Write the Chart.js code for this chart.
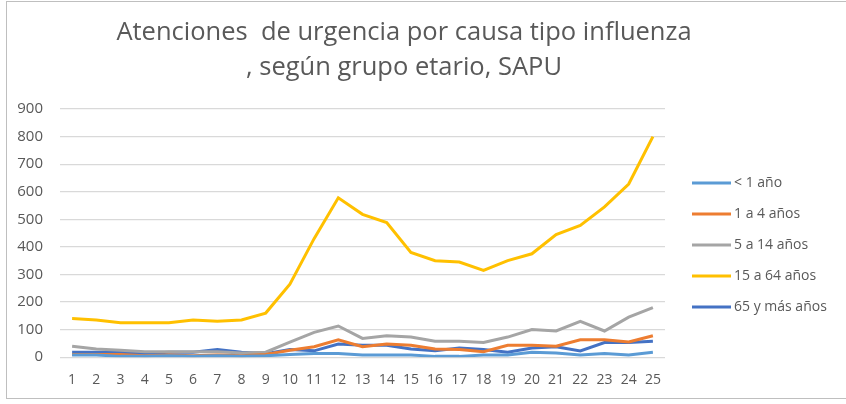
<!DOCTYPE html>
<html>
<head>
<meta charset="utf-8">
<script src="https://cdn.jsdelivr.net/npm/chart.js@4.4.1/dist/chart.umd.min.js"></script>
<style>
  html, body { margin: 0; padding: 0; background: #fff; }
  #wrap { position: relative; width: 846px; height: 404px; overflow: hidden; }
  #frame { position: absolute; left: 6px; top: 1px; width: 850px; height: 398px;
           border: 1px solid #bfbfbf; box-sizing: border-box; }
  canvas { position: absolute; left: 0; top: 0; }
</style>
</head>
<body>
<div id="wrap">
  <div id="frame"></div>
  <canvas id="urgChart" width="846" height="404"></canvas>
</div>
<script>
// === Datos ===
const semanas = ['1','2','3','4','5','6','7','8','9','10','11','12','13','14','15','16','17','18','19','20','21','22','23','24','25'];
const menor1 = [8, 8, 3, 3, 5, 3, 5, 3, 5, 10, 13, 13, 8, 8, 8, 3, 3, 8, 8, 18, 15, 8, 13, 8, 18];
const de1a4 = [10, 10, 10, 5, 8, 5, 8, 5, 10, 25, 38, 63, 38, 48, 43, 30, 28, 20, 43, 43, 40, 63, 63, 55, 78];
const de5a14 = [40, 30, 25, 20, 20, 20, 20, 15, 18, 55, 90, 113, 68, 78, 73, 58, 58, 53, 73, 100, 95, 130, 95, 145, 180];
const de15a64 = [140, 135, 125, 125, 125, 135, 130, 135, 160, 265, 430, 578, 518, 488, 380, 350, 345, 315, 350, 375, 445, 478, 545, 628, 800];
const mayor65 = [18, 18, 18, 13, 18, 18, 28, 18, 13, 28, 23, 48, 43, 43, 30, 23, 33, 28, 18, 33, 38, 23, 53, 53, 58];
const yTicks = [0, 100, 200, 300, 400, 500, 600, 700, 800, 900];
const titulo = ['Atenciones  de urgencia por causa tipo influenza', ', según grupo etario, SAPU'];

const fuente = "'Open Sans', 'DejaVu Sans', sans-serif";
const gris = '#595959';

function serie(label, data, color) {
  return {
    label: label,
    data: data,
    borderColor: color,
    backgroundColor: color,
    borderWidth: 3,
    pointRadius: 0,
    tension: 0,
    fill: false
  };
}

// === Titulo y leyenda (dibujados a mano para ubicarlos como en Excel) ===
const tituloPlugin = {
  id: 'titulo',
  afterDraw(chart) {
    const c = chart.ctx;
    c.save();
    c.font = '25.5px ' + fuente;
    c.fillStyle = gris;
    c.textAlign = 'center';
    c.textBaseline = 'middle';
    titulo.forEach((t, i) => c.fillText(t, 404, 33 + i * 35));
    c.restore();
  }
};

const leyendaPlugin = {
  id: 'leyenda',
  afterDraw(chart) {
    const c = chart.ctx;
    c.save();
    c.font = '14px ' + fuente;
    c.textBaseline = 'middle';
    chart.data.datasets.forEach((ds, i) => {
      const y = 183 + i * 31;
      c.strokeStyle = ds.borderColor;
      c.lineWidth = 3;
      c.beginPath();
      c.moveTo(692, y);
      c.lineTo(731, y);
      c.stroke();
      c.fillStyle = gris;
      c.fillText(ds.label, 734, y);
    });
    c.restore();
  }
};

// === Chart ===
const ctx = document.getElementById('urgChart').getContext('2d');
const urgChart = new Chart(ctx, {
  type: 'line',
  data: {
    labels: semanas,
    datasets: [
      serie('< 1 año', menor1, '#5b9bd5'),
      serie('1 a 4 años', de1a4, '#ed7d31'),
      serie('5 a 14 años', de5a14, '#a5a5a5'),
      serie('15 a 64 años', de15a64, '#ffc000'),
      serie('65 y más años', mayor65, '#4472c4')
    ]
  },
  plugins: [tituloPlugin, leyendaPlugin],
  options: {
    responsive: false,
    animation: false,
    layout: { padding: { left: 7, right: 181, top: 109, bottom: 2 } },
    plugins: {
      title: { display: false },
      legend: { display: false },
      tooltip: { enabled: false }
    },
    scales: {
      x: {
        offset: true,
        grid: { display: false, drawTicks: false },
        border: { display: false },
        ticks: { color: gris, font: { family: fuente, size: 14 }, maxRotation: 0, autoSkip: false, padding: 14 }
      },
      y: {
        min: 0,
        max: 900,
        afterBuildTicks: function (axis) {
          axis.ticks = yTicks.map(v => ({ value: v }));
        },
        afterFit: function (axis) {
          axis.width = 53;
        },
        grid: { color: '#d9d9d9', lineWidth: 1.3, drawTicks: false },
        border: { display: false },
        ticks: { color: gris, font: { family: fuente, size: 15 }, padding: 17 }
      }
    }
  }
});
</script>
</body>
</html>
